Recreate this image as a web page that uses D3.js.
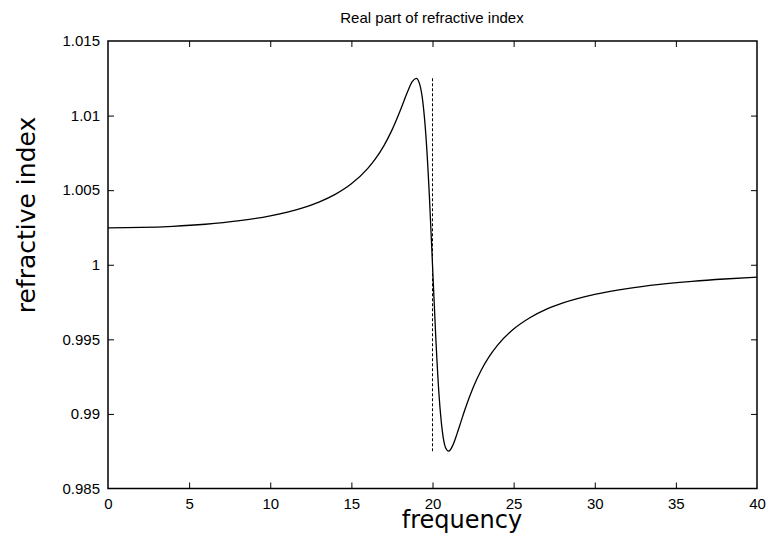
<!DOCTYPE html>
<html>
<head>
<meta charset="utf-8">
<script src="https://cdn.jsdelivr.net/npm/d3@7"></script>
<style>
  html, body { margin: 0; padding: 0; background: #fff; }
  svg { display: block; }
</style>
</head>
<body>
<script>
// ---- data ----
const freq = [0, 2, 4, 6, 8, 10, 12, 13, 14, 15, 16, 16.5, 17, 17.5, 18, 18.25, 18.5, 18.75, 19, 19.2, 19.4, 19.6, 19.8, 20, 20.2, 20.4, 20.6, 20.8, 21, 21.25, 21.5, 21.75, 22, 22.5, 23, 23.5, 24, 25, 26, 27, 28, 30, 32, 34, 36, 38, 40];
const nReal = [1.002475, 1.002500, 1.002576, 1.002715, 1.002935, 1.003275, 1.003813, 1.004203, 1.004720, 1.005431, 1.006447, 1.007129, 1.007974, 1.009024, 1.010304, 1.011008, 1.011702, 1.012275, 1.012496, 1.012139, 1.010950, 1.008558, 1.004786, 1.000000, 0.995170, 0.991317, 0.988894, 0.987754, 0.987504, 0.987892, 0.988630, 0.989469, 0.990296, 0.991757, 0.992928, 0.993856, 0.994597, 0.995692, 0.996451, 0.997005, 0.997424, 0.998013, 0.998404, 0.998681, 0.998886, 0.999044, 0.999168];
const markerX = [20, 20];
const markerY = [1.0125, 0.9875];
const xTicks = [0, 5, 10, 15, 20, 25, 30, 35, 40];
const yTicks = [0.985, 0.99, 0.995, 1, 1.005, 1.01, 1.015];
const yTickLabels = ["0.985", "0.99", "0.995", "1", "1.005", "1.01", "1.015"];
const title = "Real part of refractive index";
const xLabel = "frequency";
const yLabel = "refractive index";

// ---- layout ----
const W = 768, H = 538;
const L = 108, R = 757, T = 41, B = 488.5;

const svg = d3.select("body").append("svg").attr("width", W).attr("height", H);

const x = d3.scaleLinear().domain([0, 40]).range([L, R]);
const y = d3.scaleLinear().domain([0.985, 1.015]).range([B, T]);

const tickFont = "'Liberation Sans', Arial, sans-serif";

// axes with inward ticks (mirrored on all sides)
const gB = svg.append("g").attr("transform", `translate(0,${B})`)
  .call(d3.axisBottom(x).tickValues(xTicks).tickSizeInner(-6).tickSizeOuter(0).tickPadding(10).tickFormat(d3.format("d")));
const gT = svg.append("g").attr("transform", `translate(0,${T})`)
  .call(d3.axisTop(x).tickValues(xTicks).tickSizeInner(-6).tickSizeOuter(0).tickFormat(""));
const gL = svg.append("g").attr("transform", `translate(${L},0)`)
  .call(d3.axisLeft(y).tickValues(yTicks).tickSizeInner(-6).tickSizeOuter(0).tickPadding(8)
    .tickFormat((d, i) => yTickLabels[i]));
const gR = svg.append("g").attr("transform", `translate(${R},0)`)
  .call(d3.axisRight(y).tickValues(yTicks).tickSizeInner(-6).tickSizeOuter(0).tickFormat(""));

[gB, gT, gL, gR].forEach(g => {
  g.select(".domain").remove();
  g.selectAll(".tick line").attr("stroke", "#000").attr("stroke-width", 1);
  g.selectAll(".tick text").attr("font-family", tickFont).attr("font-size", 15).attr("fill", "#000");
});
// remove tick marks that coincide with frame corners
gB.selectAll(".tick").filter(d => d === 0 || d === 40).select("line").remove();
gT.selectAll(".tick").filter(d => d === 0 || d === 40).select("line").remove();
gL.selectAll(".tick").filter(d => d === 0.985 || d === 1.015).select("line").remove();
gR.selectAll(".tick").filter(d => d === 0.985 || d === 1.015).select("line").remove();

// frame
svg.append("rect").attr("x", L).attr("y", T).attr("width", R - L).attr("height", B - T)
  .attr("fill", "none").attr("stroke", "#000").attr("stroke-width", 1.5);

// dashed marker at resonance
svg.append("path")
  .datum(markerX.map((d, i) => [d, markerY[i]]))
  .attr("d", d3.line().x(d => x(d[0])).y(d => y(d[1])))
  .attr("fill", "none").attr("stroke", "#000").attr("stroke-width", 1)
  .attr("stroke-dasharray", "3,2");

// curve
svg.append("path")
  .datum(freq.map((f, i) => [f, nReal[i]]))
  .attr("d", d3.line().x(d => x(d[0])).y(d => y(d[1])).curve(d3.curveMonotoneX))
  .attr("fill", "none").attr("stroke", "#000").attr("stroke-width", 1.3);

// title
svg.append("text").attr("x", 432).attr("y", 23).attr("text-anchor", "middle")
  .attr("font-family", tickFont).attr("font-size", 15).attr("fill", "#000").text(title);

// axis labels
svg.append("text").attr("x", 462).attr("y", 528).attr("text-anchor", "middle")
  .attr("font-family", "'DejaVu Sans', sans-serif").attr("font-size", 24).attr("fill", "#000").text(xLabel);
svg.append("text").attr("transform", "translate(35,215) rotate(-90)").attr("text-anchor", "middle")
  .attr("font-family", "'DejaVu Sans', sans-serif").attr("font-size", 25).attr("fill", "#000").text(yLabel);
</script>
</body>
</html>
